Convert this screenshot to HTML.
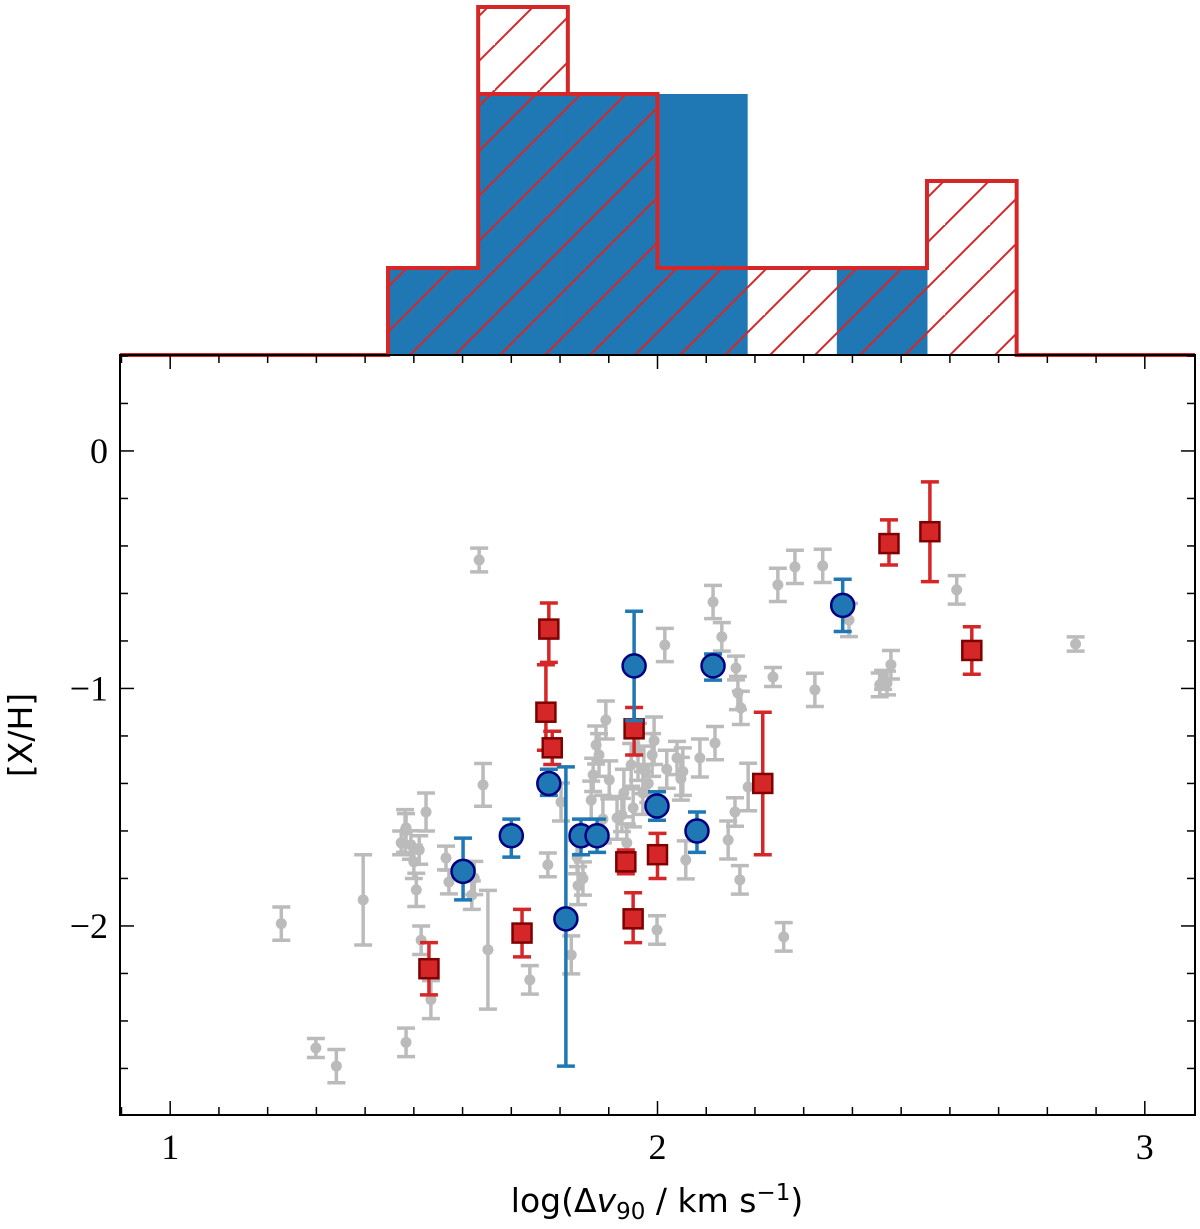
<!DOCTYPE html>
<html><head><meta charset="utf-8"><style>
html,body{margin:0;padding:0;background:#fff;}
svg{display:block;}
.tick{font-family:"Liberation Serif",serif;font-size:36px;fill:#000;}
.lab{font-family:"DejaVu Sans","Liberation Sans",sans-serif;font-size:33px;fill:#000;}
</style></head><body>
<svg id="chart" width="1200" height="1229" xmlns="http://www.w3.org/2000/svg">
<defs>
<pattern id="hatch" patternUnits="userSpaceOnUse" width="45" height="45">
<path d="M-5,50 L50,-5 M-50,50 L5,-5 M40,95 L95,40" stroke="#d62728" stroke-width="2"/>
</pattern>
</defs>
<g id="hist"></g>
<g id="plot"></g>
<text class="lab" x="657" y="1212" text-anchor="middle">log(Δ<tspan font-style="italic">v</tspan><tspan font-size="23" dy="7">90</tspan><tspan dy="-7"> / km s</tspan><tspan font-size="23" dy="-12">−1</tspan><tspan dy="12">)</tspan></text>
<text class="lab" transform="translate(32,735) rotate(-90)" text-anchor="middle">[X/H]</text>
</svg>
<script>
// histogram data
const binEdges=[1.447,1.632,1.816,2.0,2.184,2.368,2.553,2.737];
const blueCounts=[1,3,3,3,0,1,0];
const redCounts=[1,4,3,1,1,1,2];
// scatter data
const blueX=[1.601,1.70,1.777,1.812,1.843,1.876,1.952,1.999,2.081,2.114,2.38];
const blueY=[-1.77,-1.62,-1.40,-1.97,-1.62,-1.62,-0.905,-1.495,-1.60,-0.905,-0.65];
const blueErrUp=[0.14,0.07,0.06,0.64,0.07,0.07,0.23,0.06,0.08,0.05,0.11];
const blueErrDn=[0.12,0.09,0.05,0.62,0.08,0.07,0.23,0.06,0.09,0.06,0.11];
const redX=[1.531,1.722,1.777,1.771,1.784,1.952,1.935,1.95,2.0,2.216,2.475,2.559,2.645];
const redY=[-2.18,-2.03,-0.75,-1.10,-1.25,-1.17,-1.73,-1.97,-1.70,-1.40,-0.39,-0.34,-0.84];
const redErrUp=[0.11,0.10,0.11,0.20,0.07,0.09,0.05,0.11,0.09,0.30,0.10,0.21,0.10];
const redErrDn=[0.11,0.10,0.14,0.16,0.07,0.11,0.05,0.10,0.10,0.30,0.09,0.21,0.10];
const grayX=[1.228,1.299,1.341,1.396,1.474,1.484,1.494,1.500,1.505,1.511,1.515,1.525,1.535,1.566,1.572,1.619,1.624,1.634,1.642,1.652,1.738,1.775,1.802,1.823,1.835,1.837,1.847,1.864,1.868,1.874,1.880,1.888,1.894,1.901,1.917,1.927,1.931,1.937,1.946,1.950,1.960,1.970,1.972,1.981,1.989,1.993,1.999,2.015,2.019,2.040,2.048,2.052,2.058,2.087,2.114,2.118,2.132,2.145,2.159,2.161,2.165,2.169,2.171,2.186,2.237,2.247,2.259,2.282,2.323,2.339,2.393,2.456,2.463,2.471,2.479,2.614,2.858,1.484,1.482];
const grayY=[-1.99,-2.514,-2.59,-1.89,-1.65,-1.587,-1.659,-1.73,-1.848,-1.68,-2.06,-1.52,-2.31,-1.714,-1.815,-1.87,-1.798,-0.459,-1.406,-2.10,-2.227,-1.743,-1.478,-2.122,-1.71,-1.83,-1.80,-1.47,-1.364,-1.238,-1.28,-1.55,-1.133,-1.385,-1.545,-1.533,-1.44,-1.65,-1.322,-1.503,-1.267,-1.44,-1.343,-1.40,-1.28,-1.22,-2.017,-0.817,-1.34,-1.293,-1.38,-1.35,-1.722,-1.293,-0.636,-1.23,-0.783,-1.638,-1.52,-0.914,-1.019,-1.806,-1.082,-1.415,-0.952,-0.564,-2.046,-0.488,-1.006,-0.484,-0.712,-0.985,-0.964,-0.977,-0.90,-0.585,-0.813,-2.49,-1.60];
const grayErr=[0.07,0.04,0.07,0.19,0.05,0.06,0.06,0.07,0.07,0.06,0.06,0.08,0.08,0.05,0.05,0.06,0.07,0.05,0.09,0.25,0.06,0.05,0.08,0.08,0.07,0.08,0.07,0.08,0.07,0.08,0.09,0.1,0.08,0.08,0.09,0.07,0.1,0.08,0.09,0.08,0.12,0.09,0.1,0.08,0.09,0.1,0.06,0.07,0.08,0.07,0.09,0.1,0.08,0.08,0.07,0.07,0.06,0.08,0.06,0.05,0.07,0.06,0.07,0.1,0.04,0.07,0.06,0.07,0.07,0.07,0.07,0.05,0.04,0.05,0.06,0.06,0.03,0.06,0.09];
const xTicks=[1,2,3];
const yTicks=[0,-1,-2];

const NS="http://www.w3.org/2000/svg";
const L=120,R=1195,T=355,B=1115;
const xmin=0.897,xmax=3.103,ymin=-2.796,ymax=0.404;
const sx=v=>L+(v-xmin)/(xmax-xmin)*(R-L);
const sy=v=>B-(v-ymin)/(ymax-ymin)*(B-T);
const hy=c=>355-c*87;
function mk(tag,attrs,parent){const e=document.createElementNS(NS,tag);for(const k in attrs)e.setAttribute(k,attrs[k]);parent.appendChild(e);return e;}
const hist=document.getElementById('hist'),plot=document.getElementById('plot');

blueCounts.forEach((c,i)=>{if(!c)return;
 const r=mk('rect',{x:sx(binEdges[i]),y:hy(c),width:sx(binEdges[i+1])-sx(binEdges[i])+0.5,height:355-hy(c),fill:'#1f77b4'},hist);
 
 });
let d='M'+L+','+hy(0)+' L'+sx(binEdges[0])+','+hy(0);
let fillD='';
redCounts.forEach((c,i)=>{const x0=sx(binEdges[i]),x1=sx(binEdges[i+1]);
 d+=' L'+x0+','+hy(c)+' L'+x1+','+hy(c);
 fillD+='M'+x0+','+hy(0)+' L'+x0+','+hy(c)+' L'+x1+','+hy(c)+' L'+x1+','+hy(0)+' Z ';});
d+=' L'+sx(binEdges[binEdges.length-1])+','+hy(0)+' L'+R+','+hy(0);
const hf=mk('path',{d:fillD,fill:'url(#hatch)'},hist);


const hs=mk('path',{d:d,fill:'none',stroke:'#d62728','stroke-width':4},hist);


const hl=mk('line',{x1:sx(binEdges[1]),x2:sx(binEdges[2]),y1:hy(redCounts[2]),y2:hy(redCounts[2]),stroke:'#d62728','stroke-width':4},hist);



const fr=mk('rect',{x:L,y:T,width:R-L,height:B-T,fill:'none',stroke:'#000','stroke-width':2},plot);


for(let v=0.9;v<=3.1;v+=0.1){const vv=Math.round(v*10)/10;const x=sx(vv);const maj=Math.abs(vv-Math.round(vv))<1e-6;const len=maj?14:8;
 mk('line',{x1:x,x2:x,y1:B,y2:B-len,stroke:'#000','stroke-width':1.5},plot);
 mk('line',{x1:x,x2:x,y1:T,y2:T+len,stroke:'#000','stroke-width':1.5},plot);}
for(let k=-14;k<=2;k++){const vv=k*0.2;if(vv<ymin||vv>ymax)continue;const y=sy(vv);const maj=Math.abs(vv-Math.round(vv))<1e-6;const len=maj?14:8;
 mk('line',{x1:L,x2:L+len,y1:y,y2:y,stroke:'#000','stroke-width':1.5},plot);
 mk('line',{x1:R,x2:R-len,y1:y,y2:y,stroke:'#000','stroke-width':1.5},plot);}
xTicks.forEach(v=>{const t=mk('text',{x:sx(v),y:B+44,'text-anchor':'middle',class:'tick'},plot);t.textContent=String(v);
 
 });
yTicks.forEach(v=>{const t=mk('text',{x:L-12,y:sy(v)+12,'text-anchor':'end',class:'tick'},plot);t.textContent=v<0?'−'+(-v):String(v);
 
 });

function errbar(x,y,up,dn,col,w,cap){const X=sx(x);
 mk('line',{x1:X,x2:X,y1:sy(y+up),y2:sy(y-dn),stroke:col,'stroke-width':w},plot);
 mk('line',{x1:X-cap,x2:X+cap,y1:sy(y+up),y2:sy(y+up),stroke:col,'stroke-width':w},plot);
 mk('line',{x1:X-cap,x2:X+cap,y1:sy(y-dn),y2:sy(y-dn),stroke:col,'stroke-width':w},plot);}
grayX.forEach((x,i)=>{errbar(x,grayY[i],grayErr[i],grayErr[i],'#bbbbbb',3.5,9);
 const c=mk('circle',{cx:sx(x),cy:sy(grayY[i]),r:5.5,fill:'#bbbbbb'},plot);
 
 });
redX.forEach((x,i)=>{errbar(x,redY[i],redErrUp[i],redErrDn[i],'#d62728',3.5,9);
 const r=mk('rect',{x:sx(x)-9.5,y:sy(redY[i])-9.5,width:19,height:19,fill:'#d62728',stroke:'#7f0000','stroke-width':2.5},plot);
 
 });
blueX.forEach((x,i)=>{errbar(x,blueY[i],blueErrUp[i],blueErrDn[i],'#1f77b4',3.5,9);
 const c=mk('circle',{cx:sx(x),cy:sy(blueY[i]),r:11.5,fill:'#1f77b4',stroke:'#000080','stroke-width':2.5},plot);
 
 });
</script>
</body></html>
